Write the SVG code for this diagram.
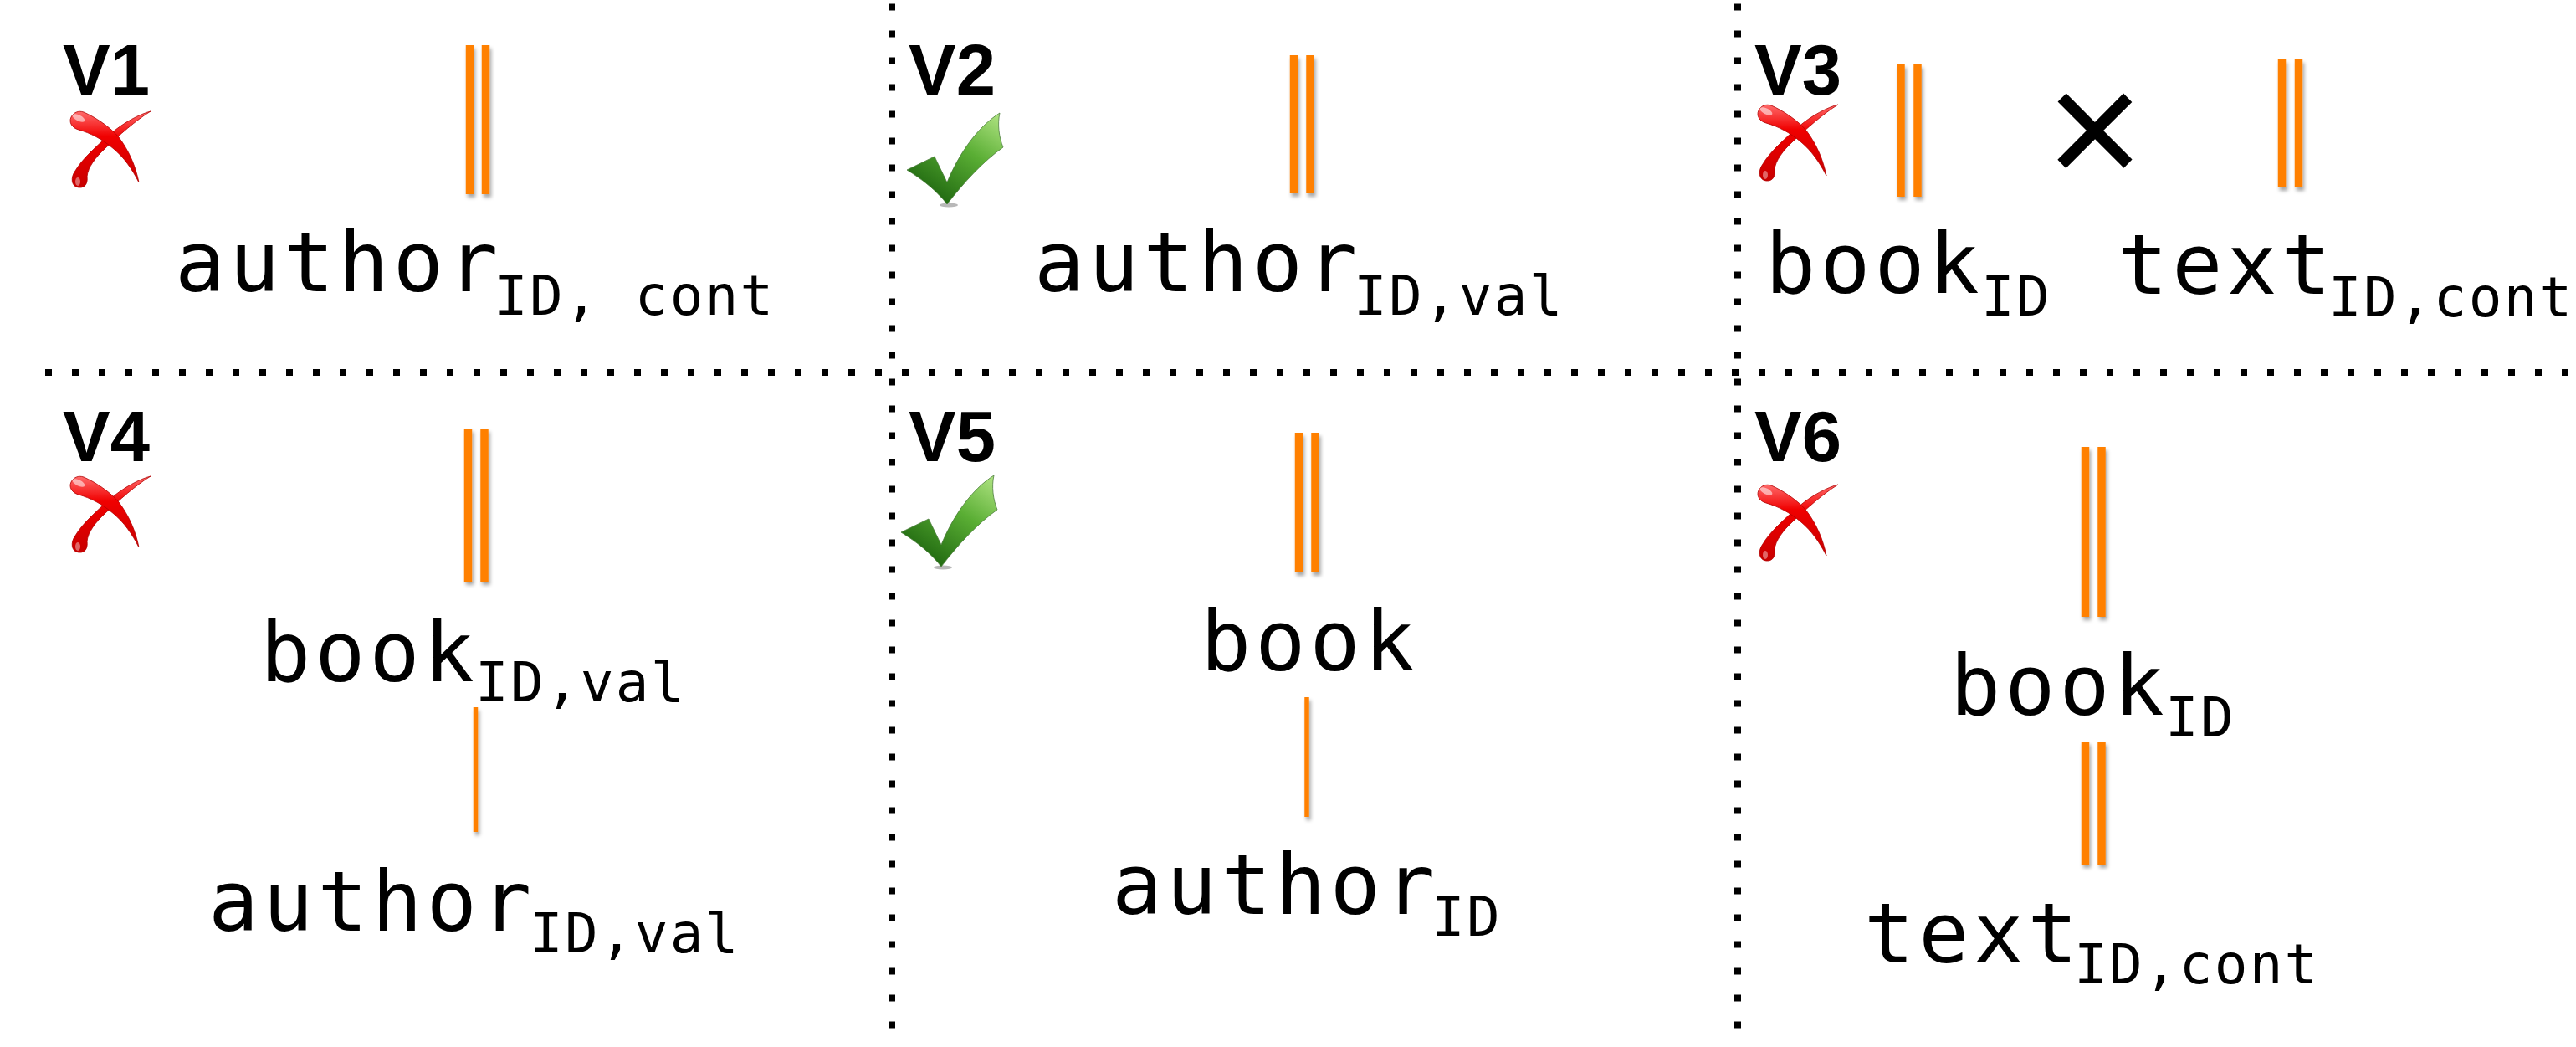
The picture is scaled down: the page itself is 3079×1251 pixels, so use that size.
<svg xmlns="http://www.w3.org/2000/svg" width="3079" height="1251" viewBox="0 0 3079 1251">
<style>
.lbl{font-family:"Liberation Sans",Arial,sans-serif;font-weight:bold;font-size:85px;fill:#000}
.main{font-family:"DejaVu Sans Mono","Liberation Mono",monospace;font-size:100px;letter-spacing:5px;fill:#000}
.sub{font-family:"DejaVu Sans Mono","Liberation Mono",monospace;font-size:66px;letter-spacing:2.2px;fill:#000}
.op{font-family:"Liberation Sans",Arial,sans-serif;font-size:200px;fill:#000}
.grid line{stroke:#000;stroke-width:8;stroke-dasharray:8 24}
.dbl{stroke:#FF8000;stroke-width:9.5}
.sgl{stroke:#FF8000;stroke-width:5.5}
</style>
<defs>
<filter id="sh" x="-100%" y="-5%" width="300%" height="115%">
<feDropShadow dx="2" dy="4" stdDeviation="2" flood-color="#000" flood-opacity="0.35"/>
</filter>
<linearGradient id="redg" x1="0" y1="0" x2="0" y2="1">
<stop offset="0" stop-color="#ff6a6a"/>
<stop offset="0.35" stop-color="#f00000"/>
<stop offset="1" stop-color="#c80000"/>
</linearGradient>
<linearGradient id="grg" x1="1" y1="0" x2="0.3" y2="1">
<stop offset="0" stop-color="#b4e686"/>
<stop offset="0.45" stop-color="#5aae34"/>
<stop offset="1" stop-color="#1c640e"/>
</linearGradient>
<g id="xmark">
<path d="M98,1 C86,4 66,14 50,28 C34,42 16,58 8,72 C2,80 3,91 12,92 C21,93 23,85 22,79 C23,68 32,56 44,45 C60,30 80,12 98,1 Z" fill="url(#redg)" stroke="#b00000" stroke-width="0.8"/>
<path d="M18,2 C32,8 50,20 60,32 C72,48 80,66 84,86 C76,70 66,56 54,46 C40,34 26,27 12,23 C4,21 0,14 3,8 C6,2 12,0 18,2 Z" fill="url(#redg)" stroke="#b00000" stroke-width="0.8"/>
<ellipse cx="12" cy="9" rx="8" ry="3.5" transform="rotate(25 12 9)" fill="#fff" opacity="0.55"/>
<ellipse cx="11" cy="85" rx="3" ry="5" fill="#fff" opacity="0.4"/>
</g>
<g id="check">
<ellipse cx="50" cy="111" rx="11" ry="2.5" fill="#888" opacity="0.6"/>
<path d="M0,69 L33,53 L48,84 C62,50 84,18 111,1 C108,14 110,30 115,42 C92,58 68,84 48,110 C36,94 18,80 0,69 Z" fill="url(#grg)" stroke="#4d7d3d" stroke-width="0.8"/>
</g>
</defs>
<rect width="3079" height="1251" fill="#fff"/>
<g id="grid" class="grid">
<line x1="54" y1="445" x2="3079" y2="445"/>
<line x1="1066" y1="4.4" x2="1066" y2="1251"/>
<line x1="2077" y1="4.4" x2="2077" y2="1251"/>
</g>
<g id="connectors" filter="url(#sh)">
<line class="dbl" x1="561.5" y1="54" x2="561.5" y2="232"/>
<line class="dbl" x1="580.5" y1="54" x2="580.5" y2="232"/>
<line class="dbl" x1="1546.5" y1="66" x2="1546.5" y2="231"/>
<line class="dbl" x1="1566" y1="66" x2="1566" y2="231"/>
<line class="dbl" x1="2272" y1="77" x2="2272" y2="235"/>
<line class="dbl" x1="2292" y1="77" x2="2292" y2="235"/>
<line class="dbl" x1="2727.5" y1="71" x2="2727.5" y2="224"/>
<line class="dbl" x1="2747.5" y1="71" x2="2747.5" y2="224"/>
<line class="dbl" x1="559.5" y1="512" x2="559.5" y2="695"/>
<line class="dbl" x1="579" y1="512" x2="579" y2="695"/>
<line class="sgl" x1="568.5" y1="845" x2="568.5" y2="994"/>
<line class="dbl" x1="1552.5" y1="517" x2="1552.5" y2="684"/>
<line class="dbl" x1="1572" y1="517" x2="1572" y2="684"/>
<line class="sgl" x1="1562" y1="833" x2="1562" y2="976"/>
<line class="dbl" x1="2492.5" y1="534" x2="2492.5" y2="737"/>
<line class="dbl" x1="2512" y1="534" x2="2512" y2="737"/>
<line class="dbl" x1="2492.5" y1="886" x2="2492.5" y2="1033"/>
<line class="dbl" x1="2512" y1="886" x2="2512" y2="1033"/>
</g>
<g id="v1">
<text class="lbl" x="75" y="113">V1</text>
<use href="#xmark" transform="translate(82,132)"/>
<text class="main" x="209" y="348">author</text>
<text class="sub" x="591" y="376">ID, cont</text>
</g>
<g id="v2">
<text class="lbl" x="1086" y="113">V2</text>
<use href="#check" transform="translate(1084,134)"/>
<text class="main" x="1236" y="348">author</text>
<text class="sub" x="1618" y="376">ID,val</text>
</g>
<g id="v3">
<text class="lbl" x="2097" y="113">V3</text>
<use href="#xmark" transform="translate(2099,124)"/>
<text class="main" x="2110" y="350">book</text>
<text class="sub" x="2368" y="377">ID</text>
<text class="op" x="2504" y="223" text-anchor="middle">×</text>
<text class="main" x="2531" y="351">text</text>
<text class="sub" x="2783" y="378">ID,cont</text>
</g>
<g id="v4">
<text class="lbl" x="75" y="551">V4</text>
<use href="#xmark" transform="translate(82,568)"/>
<text class="main" x="311" y="814">book</text>
<text class="sub" x="568" y="838">ID,val</text>
<text class="main" x="249" y="1112">author</text>
<text class="sub" x="633" y="1138">ID,val</text>
</g>
<g id="v5">
<text class="lbl" x="1086" y="551">V5</text>
<use href="#check" transform="translate(1077,567)"/>
<text class="main" x="1435" y="801">book</text>
<text class="main" x="1329" y="1092">author</text>
<text class="sub" x="1711" y="1118">ID</text>
</g>
<g id="v6">
<text class="lbl" x="2097" y="551">V6</text>
<use href="#xmark" transform="translate(2099,578)"/>
<text class="main" x="2331" y="854">book</text>
<text class="sub" x="2588" y="880">ID</text>
<text class="main" x="2228" y="1150">text</text>
<text class="sub" x="2479" y="1175">ID,cont</text>
</g>
</svg>
